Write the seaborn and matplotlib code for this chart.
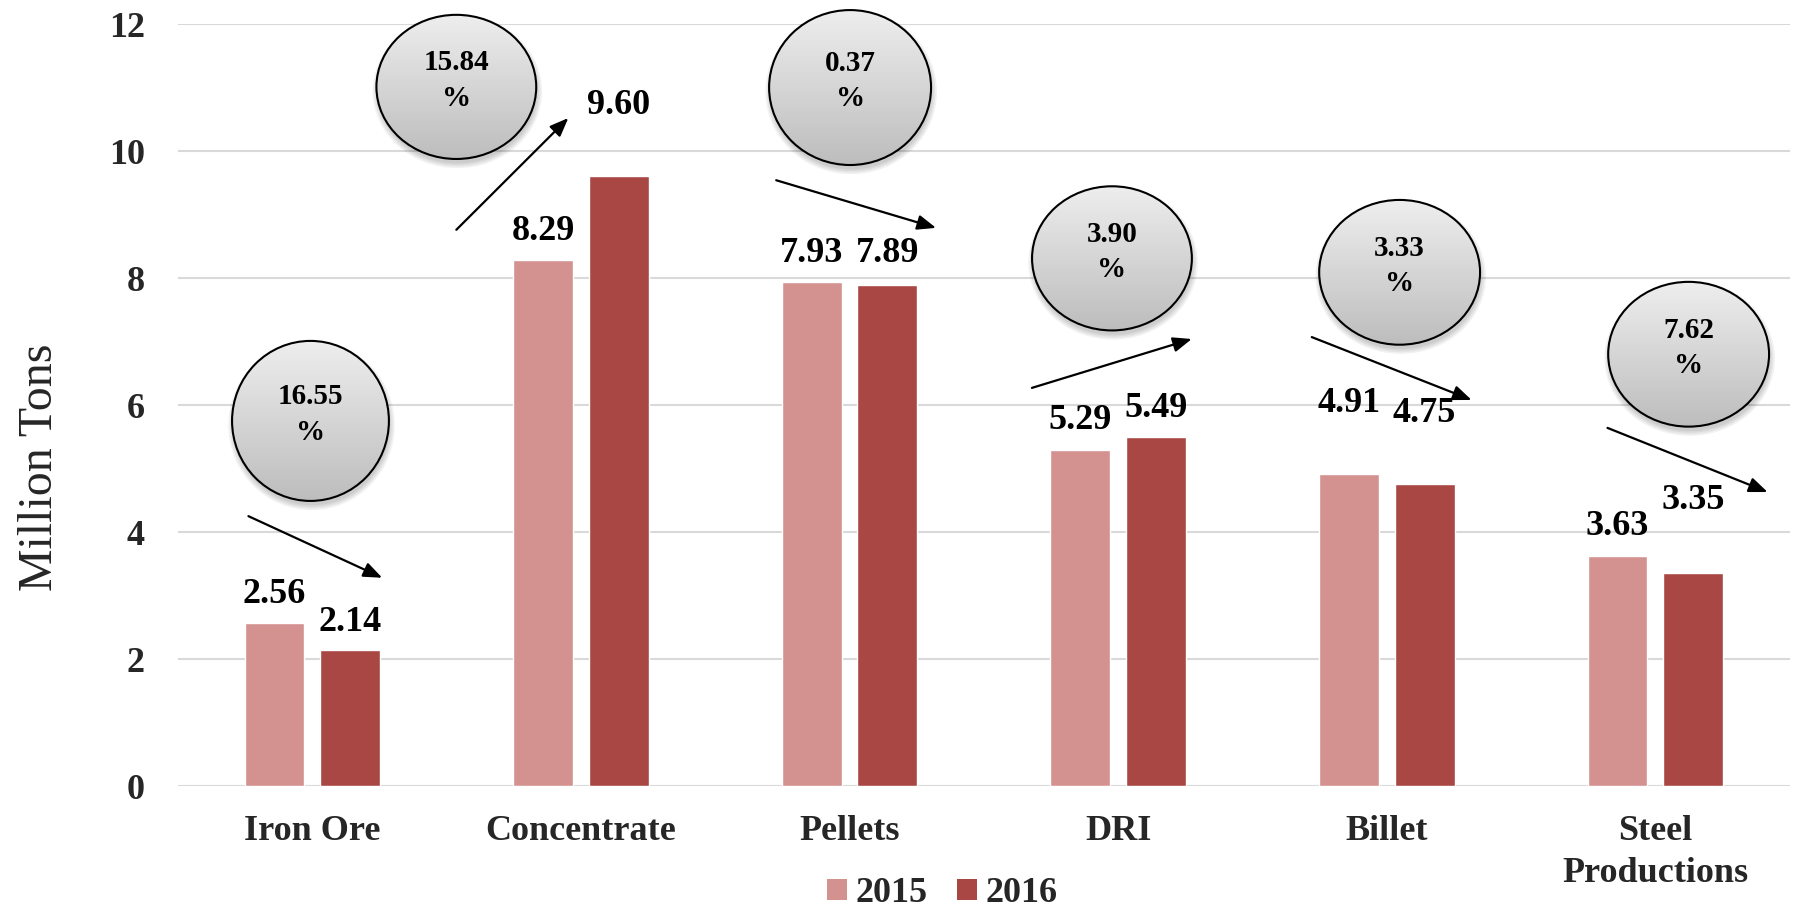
import numpy as np
import pandas as pd
import matplotlib
matplotlib.use("Agg")
import matplotlib.pyplot as plt
import seaborn as sns
from matplotlib.patches import Ellipse, Patch
from matplotlib.colors import LinearSegmentedColormap

# ---------------- data ----------------
categories = ["Iron Ore", "Concentrate", "Pellets", "DRI", "Billet", "Steel\nProductions"]
years = ["2015", "2016"]
values_2015 = [2.56, 8.29, 7.93, 5.29, 4.91, 3.63]
values_2016 = [2.14, 9.60, 7.89, 5.49, 4.75, 3.35]
change_pct = ["16.55", "15.84", "0.37", "3.90", "3.33", "7.62"]
yticks = [0, 2, 4, 6, 8, 10, 12]

# ---------------- styling / placement ----------------
colors = ["#D39190", "#A94744"]
label_offset_2015 = [0.45, 0.45, 0.46, 0.47, 1.12, 0.46]
label_offset_2016 = [0.44, 1.12, 0.50, 0.46, 1.12, 1.14]
# bubble: center x, center y, width, height (data units)
bubbles = [(-0.007, 5.75, 0.584, 2.52), (0.536, 11.01, 0.595, 2.27),
           (2.002, 11.00, 0.603, 2.44), (2.977, 8.31, 0.595, 2.27),
           (4.048, 8.09, 0.599, 2.28), (5.124, 6.80, 0.599, 2.28)]
arrows = [((-0.238, 4.25), (0.260, 3.28)), ((0.536, 8.76), (0.953, 10.52)),
          ((1.727, 9.54), (2.322, 8.79)), ((2.679, 6.27), (3.274, 7.04)),
          ((3.721, 7.07), (4.316, 6.08)), ((4.822, 5.64), (5.418, 4.63))]

sns.set_theme(style="white")
plt.rcParams["font.family"] = ["Liberation Serif", "DejaVu Serif"]

fig = plt.figure(figsize=(17.95, 9.14), dpi=100)
ax = fig.add_axes([0.0992, 0.140, 0.8978, 0.8337])

df = pd.DataFrame({
    "Category": categories * 2,
    "Year": [years[0]] * len(categories) + [years[1]] * len(categories),
    "Value": values_2015 + values_2016,
})
sns.barplot(data=df, x="Category", y="Value", hue="Year", palette=colors,
            width=0.564, gap=0.21, saturation=1, legend=False, ax=ax, zorder=2)

# value labels
for cont, offs in zip(ax.containers, [label_offset_2015, label_offset_2016]):
    for p, off in zip(cont.patches, offs):
        xc = p.get_x() + p.get_width() / 2
        h = p.get_height()
        ax.text(xc, h + off, f"{h:.2f}", ha="center", va="center",
                fontsize=26, fontweight="bold", color="black", zorder=6)

# bubbles
cmap = LinearSegmentedColormap.from_list("bub", ["#eeeeee", "#bdbdbd"])
grad = np.linspace(0, 1, 256).reshape(-1, 1)
for (cx, cy, w, h), txt in zip(bubbles, change_pct):
    # soft shadow
    for k in range(4):
        sh = Ellipse((cx + 0.004, cy - 0.07), w + 0.012 * k, h + 0.05 * k,
                     facecolor="black", edgecolor="none", alpha=0.05,
                     clip_on=False, zorder=4)
        ax.add_patch(sh)
    clip = Ellipse((cx, cy), w, h, facecolor="none", edgecolor="none",
                   transform=ax.transData)
    ax.add_patch(clip)
    clip.set_clip_on(False)
    im = ax.imshow(grad, cmap=cmap, aspect="auto", origin="upper",
                   extent=(cx - w / 2, cx + w / 2, cy - h / 2, cy + h / 2),
                   zorder=5, interpolation="bilinear")
    im.set_clip_box(fig.bbox)
    im.set_clip_path(clip)
    edge = Ellipse((cx, cy), w, h, facecolor="none", edgecolor="black",
                   lw=1.5, clip_on=False, zorder=5.5)
    ax.add_patch(edge)
    ax.text(cx, cy + 0.1, f"{txt}\n%", ha="center", va="center",
            fontsize=21, fontweight="bold", linespacing=1.4, zorder=6,
            color="black")

# arrows
for start, end in arrows:
    ax.annotate("", xy=end, xytext=start, annotation_clip=False,
                arrowprops=dict(arrowstyle="-|>,head_length=0.45,head_width=0.18",
                                color="black", lw=1.6, mutation_scale=25,
                                shrinkA=0, shrinkB=0),
                zorder=6)

ax.set_xlim(-0.5, len(categories) - 0.5)
ax.set_ylim(0, 12)
ax.set_yticks(yticks)
ax.set_yticklabels([str(t) for t in yticks], fontsize=26, fontweight="bold")
ax.set_xticks(range(len(categories)))
ax.set_xticklabels(categories, fontsize=26, fontweight="bold", linespacing=1.37)
ax.tick_params(axis="y", length=0, pad=24)
ax.tick_params(axis="x", length=0, pad=21)
ax.set_xlabel("")
ax.set_ylabel("Million Tons", fontsize=34.5, va="center")
ax.yaxis.set_label_coords(-0.0857, 0.419)
ax.yaxis.grid(True, color="#d9d9d9", lw=1.5)
ax.xaxis.grid(False)
ax.set_axisbelow(True)
for s in ax.spines.values():
    s.set_visible(False)

handles = [Patch(facecolor=c, edgecolor="none") for c in colors]
fig.legend(handles, years, loc="center", bbox_to_anchor=(0.525, 0.022), ncol=2,
           frameon=False, prop=dict(size=26, weight="bold"),
           handlelength=0.55, handleheight=0.55, handletextpad=0.25,
           columnspacing=0.8, borderaxespad=0, borderpad=0.1)

fig.savefig("out.png", dpi=100, facecolor="white")
